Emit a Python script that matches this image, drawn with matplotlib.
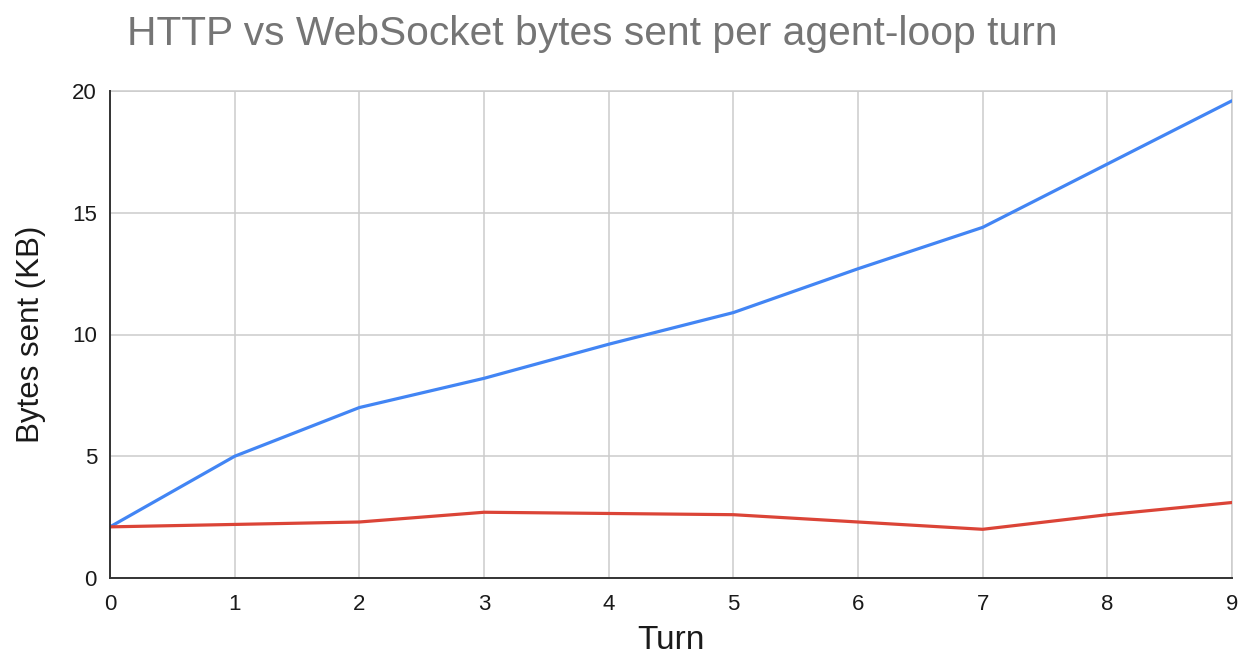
import matplotlib
matplotlib.use("Agg")
import matplotlib.pyplot as plt

turns = [0, 1, 2, 3, 4, 5, 6, 7, 8, 9]
http_kb = [2.1, 5.0, 7.0, 8.2, 9.6, 10.9, 12.7, 14.4, 17.0, 19.6]
ws_kb = [2.1, 2.2, 2.3, 2.7, 2.65, 2.6, 2.3, 2.0, 2.6, 3.1]
y_ticks = [0, 5, 10, 15, 20]

plt.rcParams['font.family'] = ['Liberation Sans', 'DejaVu Sans']

fig = plt.figure(figsize=(12.51, 6.61), dpi=100)
ax = fig.add_axes([110/1251, 83/661, (1232-110)/1251, (578-91)/661])

ax.plot(turns, http_kb, color='#4285F4', lw=2.3, solid_capstyle='round', zorder=3)
ax.plot(turns, ws_kb, color='#DB4437', lw=2.3, solid_capstyle='round', zorder=3)

ax.set_xlim(0, 9)
ax.set_ylim(0, 20)
ax.set_xticks(turns)
ax.set_yticks(y_ticks)
ax.grid(True, color='#cccccc', lw=1.1)
ax.set_axisbelow(True)
for s in ['top', 'right']:
    ax.spines[s].set_color('#cccccc')
    ax.spines[s].set_linewidth(1.1)
for s in ['left', 'bottom']:
    ax.spines[s].set_color('#333333')
    ax.spines[s].set_linewidth(1.4)
    ax.spines[s].set_zorder(4)
ax.tick_params(length=0, labelsize=16, colors='#1a1a1a')
ax.tick_params(axis='x', pad=11.5)
ax.tick_params(axis='y', pad=9.4)

ax.set_xlabel('Turn', fontsize=24, color='#1a1a1a', labelpad=7)
ax.set_ylabel('Bytes sent (KB)', fontsize=22.5, color='#1a1a1a', labelpad=18.5)
fig.text(127/1251, 1 - 34/661, 'HTTP vs WebSocket bytes sent per agent-loop turn',
         fontsize=29.3, color='#757575', ha='left', va='center')

fig.savefig('out.png', dpi=100, facecolor='white')
